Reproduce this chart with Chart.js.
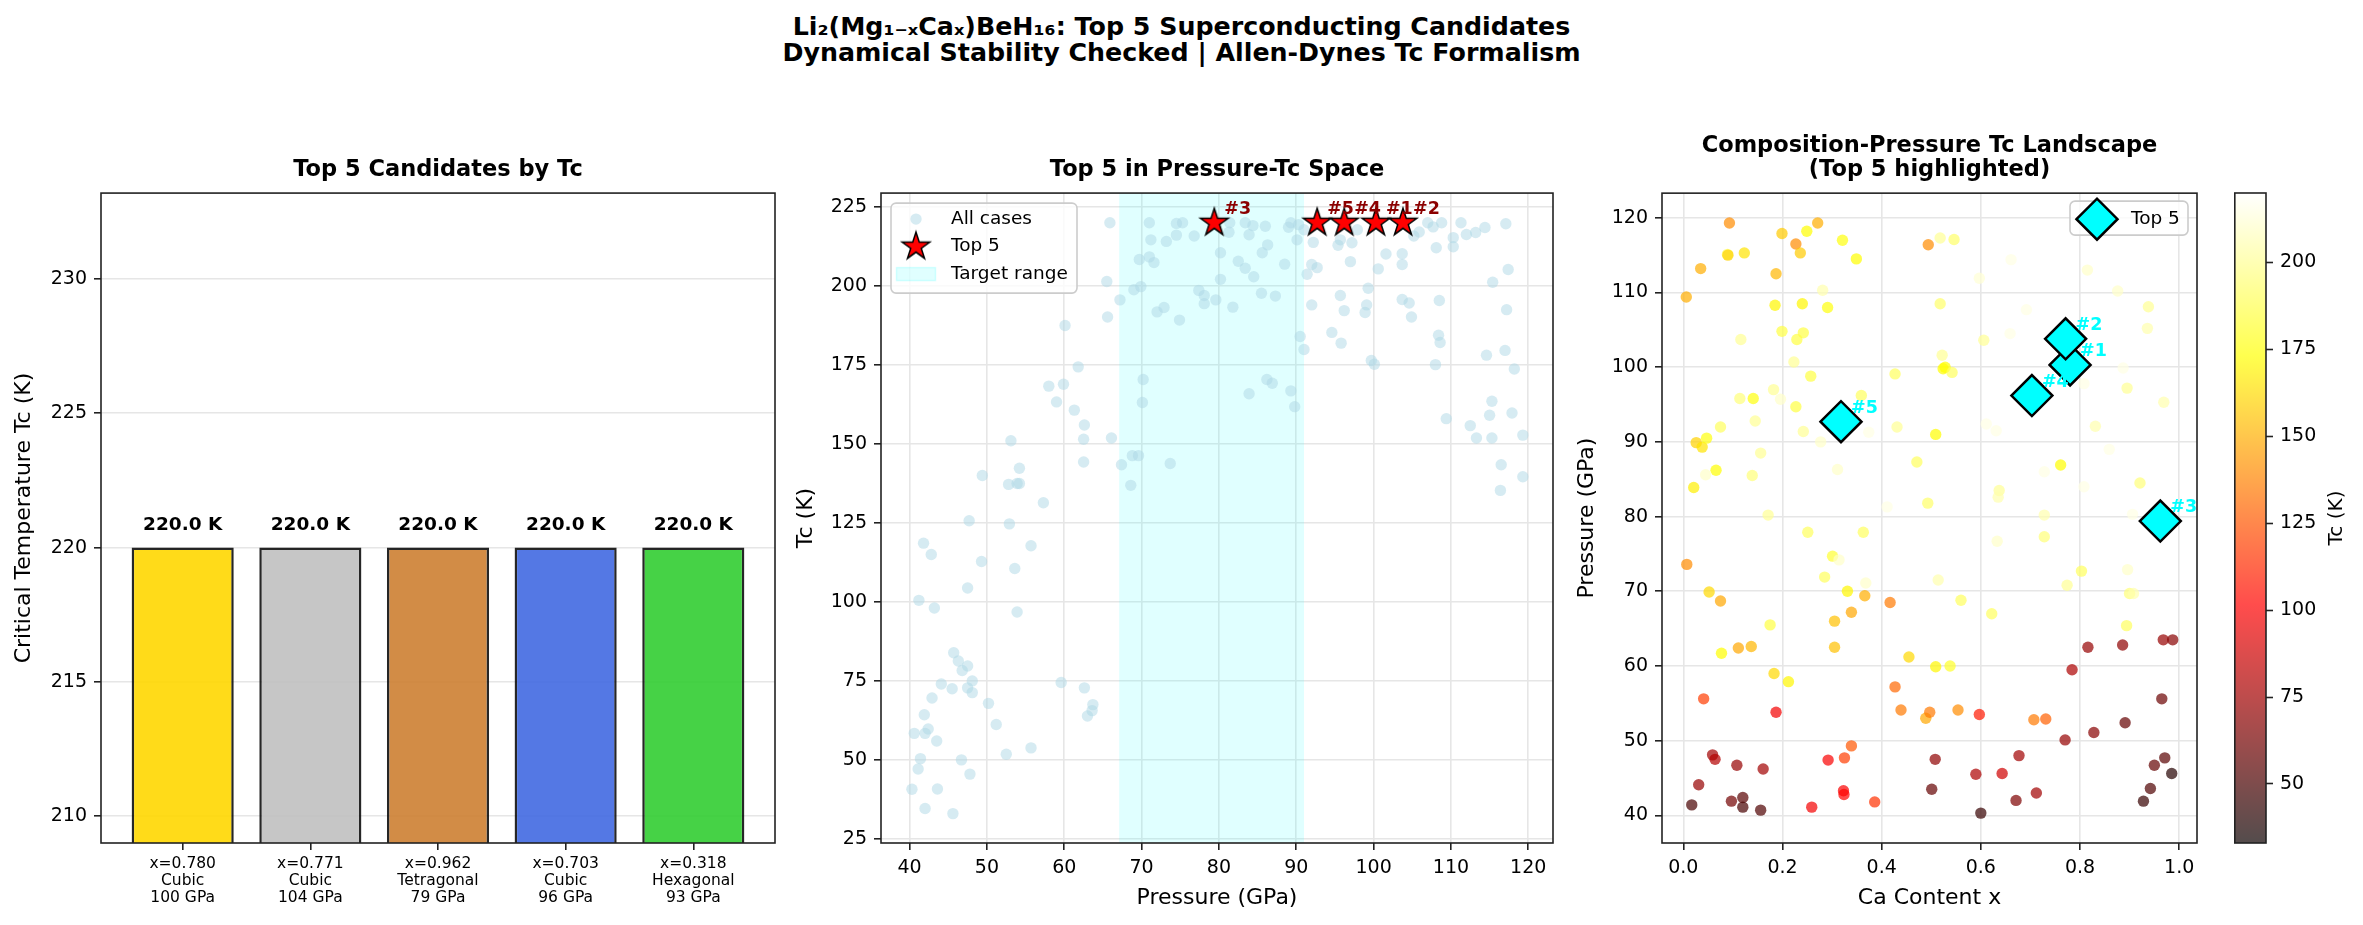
<!DOCTYPE html>
<html>
<head>
<meta charset="utf-8">
<script src="https://cdn.jsdelivr.net/npm/chart.js@4.4.1/dist/chart.umd.min.js"></script>
<style>
  html, body { margin: 0; padding: 0; background: #fff; }
  body { width: 2363px; height: 925px; position: relative; overflow: hidden; font-family: 'DejaVu Sans', sans-serif; }
  canvas { position: absolute; }
  #suptitle { position: absolute; left: 0; top: 14px; width: 2363px; text-align: center;
              font-weight: bold; font-size: 25.3px; line-height: 26px; color: #000; }
</style>
</head>
<body>
<div id="suptitle">Li₂(Mg₁₋ₓCaₓ)BeH₁₆: Top 5 Superconducting Candidates<br>Dynamical Stability Checked | Allen-Dynes Tc Formalism</div>
<canvas id="bars" width="790" height="825" style="left:0px;top:100px"></canvas>
<canvas id="ptc" width="802" height="825" style="left:781px;top:100px"></canvas>
<canvas id="land" width="660" height="825" style="left:1560px;top:100px"></canvas>
<canvas id="cbar" width="129" height="825" style="left:2234px;top:100px"></canvas>
<script>
// top 5 candidates
const top5Rank = ['#1', '#2', '#3', '#4', '#5'];
const top5Ca = [0.780, 0.771, 0.962, 0.703, 0.318];
const top5Pressure = [100.3, 103.8, 79.4, 96.2, 92.7];
const top5Tc = [220.0, 220.0, 220.0, 220.0, 220.0];
const top5Structure = ['Cubic', 'Cubic', 'Tetragonal', 'Cubic', 'Hexagonal'];
const top5Colors = ['rgba(255,215,0,0.9)', 'rgba(192,192,192,0.9)', 'rgba(205,127,50,0.9)', 'rgba(65,105,225,0.9)', 'rgba(50,205,50,0.9)'];

// target pressure window (GPa)
const targetRange = [67.1, 91.0];

// all cases, pressure vs Tc (middle panel)
const allPressure = [
  65.9, 71.0, 74.5, 75.3, 71.2, 73.2, 74.5, 76.8, 69.7, 71.0, 71.6, 80.2, 65.5, 67.2, 69.0, 69.9,
  65.6, 72.0, 72.9, 74.9, 77.4, 78.1, 78.1, 79.6, 80.2, 60.1, 61.8, 58.0, 59.9, 59.0, 61.3, 62.6,
  62.5, 66.1, 62.5, 70.2, 70.1, 67.4, 68.8, 69.6, 68.6, 73.7, 53.1, 49.4, 54.2, 52.8, 53.9, 54.2,
  57.3, 47.7, 52.9, 55.7, 41.8, 42.8, 49.3, 53.6, 47.5, 41.2, 43.2, 53.9, 45.7, 46.3, 47.5, 46.8,
  48.1, 44.1, 45.5, 47.5, 48.1, 42.9, 50.2, 59.6, 62.6, 63.7, 63.6, 63.0, 41.9, 51.2, 42.4, 40.6,
  42.0, 43.5, 41.4, 41.1, 46.7, 47.8, 52.5, 55.7, 40.3, 43.6, 42.0, 45.6,
  81.4, 81.3, 83.4, 84.4, 83.9, 86.0, 86.3, 85.6, 82.5, 83.4, 84.5, 88.5, 85.5, 87.3, 81.8, 89.0,
  89.3, 90.1, 90.5, 91.0, 86.2, 86.9, 83.9, 89.3, 89.8, 91.0, 92.2, 92.0, 92.7, 91.4, 92.0, 95.4,
  95.7, 97.2, 97.0, 97.9, 95.7, 96.2, 94.6, 95.8, 99.3, 99.1, 98.9, 100.6, 101.6, 103.7, 103.7, 99.7,
  100.1, 103.7, 104.6, 104.9, 105.2, 105.9, 107.0, 107.7, 108.8, 108.1, 110.3, 110.3, 111.3, 112.0, 113.2, 114.4,
  117.1, 108.5, 108.4, 108.6, 108.0, 115.4, 117.4, 117.2, 114.6, 117.0, 118.2, 115.3, 115.0, 117.9, 109.4, 112.5,
  113.3, 115.3, 119.3, 116.5, 119.3, 116.4, 90.3
];
const allTc = [
  220.0, 220.0, 219.8, 220.0, 214.6, 214.1, 216.1, 215.8, 208.4, 209.2, 207.4, 210.5, 201.4, 195.6, 198.8, 199.8,
  190.2, 191.8, 193.2, 189.2, 198.6, 197.0, 194.4, 195.6, 202.1, 187.5, 174.4, 168.3, 168.9, 163.3, 160.7, 156.0,
  151.5, 151.9, 144.3, 170.4, 163.1, 143.4, 146.3, 146.3, 136.9, 143.8, 151.0, 140.0, 142.3, 137.2, 137.5, 137.5,
  131.4, 125.7, 124.7, 117.8, 118.6, 115.0, 112.8, 110.6, 104.4, 100.5, 98.1, 96.8, 83.9, 81.3, 79.7, 78.3,
  75.0, 74.0, 72.5, 72.8, 71.3, 69.6, 67.9, 74.5, 72.8, 67.5, 65.6, 63.9, 64.3, 61.2, 59.8, 58.4,
  58.4, 56.0, 50.4, 47.1, 50.0, 45.5, 51.8, 53.8, 40.7, 40.8, 34.6, 33.0,
  220.0, 217.0, 220.0, 219.1, 216.2, 218.9, 213.0, 210.5, 207.8, 205.6, 202.9, 206.9, 197.7, 196.8, 193.3, 218.6,
  220.0, 214.6, 184.0, 179.9, 170.4, 169.2, 165.9, 166.8, 161.8, 217.8, 213.8, 206.8, 205.8, 203.7, 194.0, 212.9,
  214.6, 213.7, 207.7, 217.8, 197.0, 192.2, 185.3, 181.9, 199.3, 194.0, 191.6, 205.4, 210.1, 210.2, 206.8, 176.4,
  175.2, 195.7, 194.6, 190.2, 215.8, 217.1, 220.0, 218.7, 220.0, 212.1, 215.3, 212.4, 220.0, 216.3, 216.9, 218.5,
  219.7, 195.4, 184.4, 182.1, 175.1, 201.2, 205.2, 192.5, 178.1, 179.6, 173.7, 163.5, 159.1, 159.8, 158.0, 155.8,
  151.9, 151.9, 152.8, 143.4, 139.6, 135.3, 219.4
];

// composition-pressure landscape (right panel)
const landCa = [
  0.093, 0.199, 0.249, 0.271, 0.227, 0.236, 0.321, 0.349, 0.089, 0.090, 0.123, 0.035, 0.187, 0.006, 0.185, 0.240,
  0.291, 0.281, 0.199, 0.242, 0.229, 0.116, 0.223, 0.257, 0.427, 0.182, 0.196, 0.114, 0.141, 0.227, 0.359, 0.075,
  0.145, 0.242, 0.277, 0.374, 0.431, 0.026, 0.038, 0.047, 0.066, 0.045, 0.021, 0.156, 0.139, 0.311, 0.471, 0.411,
  0.493, 0.171, 0.251, 0.363, 0.301, 0.314, 0.285, 0.368, 0.007, 0.052, 0.075, 0.331, 0.366, 0.417, 0.175, 0.305,
  0.339, 0.077, 0.111, 0.137, 0.305, 0.455, 0.509, 0.183, 0.212, 0.041, 0.187, 0.427, 0.439, 0.489, 0.497, 0.059,
  0.064, 0.108, 0.161, 0.292, 0.325, 0.339, 0.031, 0.017, 0.097, 0.120, 0.120, 0.156, 0.259, 0.323, 0.324, 0.386,
  0.508, 0.501, 0.494,
  0.518, 0.546, 0.518, 0.522, 0.524, 0.528, 0.542, 0.509, 0.606, 0.597, 0.661, 0.692, 0.659, 0.815, 0.876, 0.938,
  0.936, 0.895, 0.969, 0.808, 0.887, 0.831, 0.859, 0.611, 0.631, 0.761, 0.728, 0.808, 0.921, 0.637, 0.635, 0.728,
  0.728, 0.633, 0.906, 0.803, 0.774, 0.896, 0.900, 0.908, 0.514, 0.560, 0.622, 0.894, 0.538, 0.816, 0.886, 0.968,
  0.987, 0.784, 0.965, 0.891, 0.828, 0.770, 0.554, 0.597, 0.707, 0.731, 0.590, 0.643, 0.677, 0.671, 0.712, 0.600,
  0.950, 0.971, 0.985, 0.942, 0.928
];
const landPressure = [
  119.3, 117.9, 118.2, 119.3, 116.5, 115.3, 117.0, 114.5, 115.1, 115.0, 115.3, 113.2, 112.5, 109.4, 108.3, 108.5,
  108.0, 110.3, 104.8, 104.6, 103.7, 103.7, 100.7, 98.8, 99.1, 97.0, 95.7, 95.8, 95.8, 94.7, 96.2, 92.0,
  92.8, 91.4, 90.0, 91.3, 92.0, 89.9, 89.3, 90.5, 86.2, 85.6, 83.9, 88.5, 85.5, 86.3, 87.3, 81.3,
  81.8, 80.2, 77.9, 77.9, 74.7, 74.2, 71.9, 71.1, 73.6, 69.9, 68.7, 70.0, 69.4, 68.5, 65.5, 66.0,
  67.2, 61.7, 62.4, 62.6, 62.5, 61.2, 59.9, 59.0, 57.9, 55.6, 53.8, 57.2, 54.1, 53.0, 53.8, 48.1,
  47.5, 46.7, 46.2, 47.4, 47.7, 49.3, 44.1, 41.4, 41.9, 42.4, 41.1, 40.7, 41.1, 43.3, 42.8, 41.8,
  47.5, 43.5, 116.4,
  117.3, 117.1, 108.5, 101.6, 99.8, 100.0, 99.3, 91.0, 103.6, 111.9, 114.4, 107.7, 104.5, 113.0, 110.2, 108.1,
  105.2, 97.2, 95.3, 97.8, 99.9, 92.1, 89.0, 92.4, 91.5, 86.9, 86.0, 84.0, 84.5, 83.5, 82.6, 80.2,
  77.3, 76.7, 80.3, 72.7, 70.8, 72.9, 69.7, 69.7, 71.5, 68.8, 67.0, 65.4, 60.0, 62.5, 62.8, 63.5,
  63.5, 59.5, 55.6, 52.4, 51.1, 50.1, 54.1, 53.5, 52.8, 52.9, 45.5, 45.6, 48.0, 42.0, 43.0, 40.3,
  46.7, 47.7, 45.6, 43.6, 41.9
];
const landTc = [
  140, 158, 172, 150, 140, 158, 175, 172, 190, 160, 165, 150, 152, 150, 170, 170,
  175, 205, 185, 185, 185, 200, 200, 185, 190, 200, 210, 195, 175, 185, 190, 190,
  200, 200, 210, 215, 200, 160, 165, 175, 172, 210, 168, 200, 195, 210, 190, 215,
  192, 200, 190, 190, 182, 210, 190, 210, 140, 162, 148, 170, 150, 135, 185, 155,
  148, 172, 148, 152, 155, 162, 170, 162, 170, 118, 98, 130, 135, 148, 135, 75,
  80, 72, 75, 100, 118, 125, 72, 50, 62, 55, 50, 52, 98, 100, 102, 115,
  70, 58, 140,
  200, 192, 192, 200, 172, 172, 190, 172, 200, 212, 215, 215, 215, 210, 210, 200,
  205, 200, 205, 215, 215, 205, 215, 215, 215, 172, 215, 215, 195, 200, 205, 205,
  195, 210, 215, 190, 200, 210, 195, 205, 205, 190, 190, 190, 180, 72, 70, 72,
  68, 78, 60, 58, 68, 72, 140, 108, 135, 128, 78, 88, 75, 65, 75, 45,
  58, 55, 40, 52, 45
];

const FONT = "'DejaVu Sans', sans-serif";
Chart.defaults.font.family = FONT;
Chart.defaults.color = '#000';

const tcMin = Math.min(...allTc);
const tcMax = Math.max(...allTc);

// matplotlib 'hot' colormap
function hotColor(t, alpha) {
  t = Math.min(1, Math.max(0, t));
  const r = t < 0.365079 ? 0.0416 + (1 - 0.0416) * t / 0.365079 : 1;
  const g = t < 0.365079 ? 0 : (t < 0.746032 ? (t - 0.365079) / (0.746032 - 0.365079) : 1);
  const b = t < 0.746032 ? 0 : (t - 0.746032) / (1 - 0.746032);
  return 'rgba(' + Math.round(r * 255) + ',' + Math.round(g * 255) + ',' + Math.round(b * 255) + ',' + alpha + ')';
}
function tcNorm(t) { return (t - tcMin) / (tcMax - tcMin); }

function makeStar(R, lw) {
  const size = Math.ceil(2 * R + 2 * lw + 4);
  const c = document.createElement('canvas');
  c.width = size; c.height = size;
  const g = c.getContext('2d');
  g.beginPath();
  for (let k = 0; k < 10; k++) {
    const r = k % 2 ? R * 0.381966 : R;
    const ang = -Math.PI / 2 + k * Math.PI / 5;
    g.lineTo(size / 2 + r * Math.cos(ang), size / 2 + r * Math.sin(ang));
  }
  g.closePath();
  g.fillStyle = '#ff0000'; g.fill();
  g.lineWidth = lw; g.strokeStyle = '#000'; g.stroke();
  return c;
}
const starImg = makeStar(14.5, 1.5);

function gridOpts(onArea) {
  return { display: true, drawOnChartArea: onArea, color: '#e6e6e6', lineWidth: 1.6,
           drawTicks: true, tickLength: 7, tickColor: '#222', tickWidth: 1.6, offset: false };
}
function titleOpts(text, padTop) {
  return { display: true, text: text, fullSize: false, color: '#000',
           font: { size: 22.5, weight: 'bold', lineHeight: 1.07 }, padding: { top: padTop, bottom: 11 } };
}

const framePlugin = {
  id: 'frame',
  afterDatasetsDraw(chart) {
    const { ctx, chartArea: a } = chart;
    ctx.save();
    ctx.strokeStyle = '#222'; ctx.lineWidth = 1.6;
    ctx.strokeRect(a.left, a.top, a.right - a.left, a.bottom - a.top);
    ctx.restore();
  }
};

function makeTagPlugin(xs, ys, tags, color) {
  return {
    id: 'tags',
    afterDatasetsDraw(chart) {
      const { ctx, scales: { x, y } } = chart;
      ctx.save();
      ctx.font = 'bold 17.5px ' + FONT;
      ctx.fillStyle = color; ctx.textAlign = 'left'; ctx.textBaseline = 'alphabetic';
      tags.forEach((t, i) => ctx.fillText(t, x.getPixelForValue(xs[i]) + 10, y.getPixelForValue(ys[i]) - 9));
      ctx.restore();
    }
  };
}

function roundBox(ctx, x, y, w, h, r) {
  ctx.beginPath();
  ctx.moveTo(x + r, y);
  ctx.arcTo(x + w, y, x + w, y + h, r);
  ctx.arcTo(x + w, y + h, x, y + h, r);
  ctx.arcTo(x, y + h, x, y, r);
  ctx.arcTo(x, y, x + w, y, r);
  ctx.closePath();
}

function drawMarker(ctx, kind, x, y) {
  ctx.save();
  if (kind === 'circle') {
    ctx.beginPath(); ctx.arc(x, y, 5.7, 0, Math.PI * 2);
    ctx.fillStyle = 'rgba(173,216,230,0.5)'; ctx.fill();
  } else if (kind === 'star') {
    ctx.drawImage(starImg, x - starImg.width / 2, y - starImg.height / 2);
  } else if (kind === 'patch') {
    ctx.fillStyle = 'rgba(0,255,255,0.12)'; ctx.strokeStyle = 'rgba(0,255,255,0.15)'; ctx.lineWidth = 1.5;
    ctx.fillRect(x - 19.5, y - 6.5, 39, 13); ctx.strokeRect(x - 19.5, y - 6.5, 39, 13);
  } else if (kind === 'diamond') {
    ctx.beginPath();
    ctx.moveTo(x - 20.5, y); ctx.lineTo(x, y - 20.5); ctx.lineTo(x + 20.5, y); ctx.lineTo(x, y + 20.5); ctx.closePath();
    ctx.fillStyle = '#00ffff'; ctx.fill(); ctx.lineWidth = 2.5; ctx.strokeStyle = '#000'; ctx.stroke();
  }
  ctx.restore();
}

function makeLegendPlugin(cfg) {
  return {
    id: 'mplLegend',
    afterDraw(chart) {
      const { ctx, chartArea: a } = chart;
      const bx = cfg.right ? a.right - cfg.dx - cfg.w : a.left + cfg.dx;
      const by = a.top + cfg.dy;
      ctx.save();
      roundBox(ctx, bx, by, cfg.w, cfg.h, 5);
      ctx.fillStyle = 'rgba(255,255,255,0.8)'; ctx.fill();
      ctx.strokeStyle = '#cccccc'; ctx.lineWidth = 1.6; ctx.stroke();
      cfg.items.forEach((it, i) => {
        const cy = by + cfg.first + i * cfg.step;
        drawMarker(ctx, it.kind, bx + cfg.mx, cy);
        ctx.fillStyle = '#000'; ctx.font = '18.5px ' + FONT;
        ctx.textAlign = 'left'; ctx.textBaseline = 'middle';
        ctx.fillText(it.text, bx + cfg.tx, cy);
      });
      ctx.restore();
    }
  };
}

// ---------- panel 1: bars ----------
const barLabels = top5Ca.map((x, i) => ['x=' + x.toFixed(3), top5Structure[i], Math.round(top5Pressure[i]) + ' GPa']);

const barValuePlugin = {
  id: 'barValues',
  afterDatasetsDraw(chart) {
    const ctx = chart.ctx, y = chart.scales.y;
    chart.getDatasetMeta(0).data.forEach((bar, i) => {
      ctx.save();
      ctx.font = 'bold 18.5px ' + FONT;
      ctx.fillStyle = '#000'; ctx.textAlign = 'center'; ctx.textBaseline = 'bottom';
      ctx.fillText(top5Tc[i].toFixed(1) + ' K', bar.x, y.getPixelForValue(top5Tc[i] + 0.5));
      ctx.restore();
    });
  }
};

new Chart(document.getElementById('bars'), {
  type: 'bar',
  data: {
    datasets: [{
      data: top5Tc.map((t, i) => ({ x: i, y: t })),
      backgroundColor: top5Colors,
      borderColor: 'rgba(0,0,0,0.85)',
      borderWidth: 2.5,
      borderSkipped: false,
      categoryPercentage: 0.8,
      barPercentage: 1.0
    }]
  },
  options: {
    responsive: false, devicePixelRatio: 1, animation: false,
    layout: { padding: { right: 15 } },
    plugins: { legend: { display: false }, tooltip: { enabled: false },
               title: titleOpts('Top 5 Candidates by Tc', 58) },
    scales: {
      x: {
        type: 'linear', min: -0.64, max: 4.64, offset: false,
        grid: gridOpts(false), border: { display: false },
        afterBuildTicks: s => { s.ticks = top5Tc.map((_, i) => ({ value: i })); },
        ticks: { autoSkip: false, maxRotation: 0, padding: 6, font: { size: 15.5, lineHeight: 1.08 },
                 callback: v => barLabels[v] },
        afterFit: s => { s.height = 82; }
      },
      y: {
        min: 209, max: 233.2,
        grid: gridOpts(true), border: { display: false },
        ticks: { stepSize: 5, includeBounds: false, padding: 7, font: { size: 19 } },
        title: { display: true, text: 'Critical Temperature Tc (K)', font: { size: 22, lineHeight: 1.2 }, padding: { top: 11, bottom: 0 } },
        afterFit: s => { s.width = 101; }
      }
    }
  },
  plugins: [barValuePlugin, framePlugin]
});

// ---------- panel 2: pressure vs Tc ----------
const spanPlugin = {
  id: 'targetSpan',
  beforeDatasetsDraw(chart) {
    const { ctx, chartArea: a, scales: { x } } = chart;
    const x0 = x.getPixelForValue(targetRange[0]), x1 = x.getPixelForValue(targetRange[1]);
    ctx.save();
    ctx.fillStyle = 'rgba(0,255,255,0.12)';
    ctx.fillRect(x0, a.top, x1 - x0, a.bottom - a.top);
    ctx.restore();
  }
};

new Chart(document.getElementById('ptc'), {
  type: 'scatter',
  data: {
    datasets: [
      { label: 'Top 5', data: top5Pressure.map((p, i) => ({ x: p, y: top5Tc[i] })),
        pointStyle: starImg, pointRadius: 14.5, backgroundColor: '#ff0000', order: 0 },
      { label: 'All cases', data: allPressure.map((p, i) => ({ x: p, y: allTc[i] })),
        pointRadius: 5.7, borderWidth: 0, backgroundColor: 'rgba(173,216,230,0.5)', order: 1 }
    ]
  },
  options: {
    responsive: false, devicePixelRatio: 1, animation: false,
    layout: { padding: { right: 30 } },
    plugins: { legend: { display: false }, tooltip: { enabled: false },
               title: titleOpts('Top 5 in Pressure-Tc Space', 58) },
    scales: {
      x: {
        type: 'linear', min: 36.3, max: 123.2,
        grid: gridOpts(true), border: { display: false },
        ticks: { stepSize: 10, includeBounds: false, padding: 7, maxRotation: 0, font: { size: 19 } },
        title: { display: true, text: 'Pressure (GPa)', font: { size: 22, lineHeight: 1.2 }, padding: { top: 0, bottom: 14 } },
        afterFit: s => { s.height = 82; }
      },
      y: {
        min: 23.7, max: 229.4,
        grid: gridOpts(true), border: { display: false },
        ticks: { stepSize: 25, includeBounds: false, padding: 7, font: { size: 19 } },
        title: { display: true, text: 'Tc (K)', font: { size: 22, lineHeight: 1.2 }, padding: { top: 12, bottom: 0 } },
        afterFit: s => { s.width = 100; }
      }
    }
  },
  plugins: [spanPlugin, framePlugin,
    makeTagPlugin(top5Pressure, top5Tc, top5Rank, '#8b0000'),
    makeLegendPlugin({ right: false, dx: 10, dy: 10, w: 186, h: 90, first: 16, step: 27.5, mx: 25, tx: 60,
      items: [{ kind: 'circle', text: 'All cases' }, { kind: 'star', text: 'Top 5' }, { kind: 'patch', text: 'Target range' }] })]
});

// ---------- panel 3: composition-pressure landscape ----------
new Chart(document.getElementById('land'), {
  type: 'scatter',
  data: {
    datasets: [
      { label: 'Top 5', data: top5Ca.map((x, i) => ({ x: x, y: top5Pressure[i] })),
        pointStyle: 'rectRot', pointRadius: 20.5, backgroundColor: '#00ffff', borderColor: '#000', borderWidth: 2.5, order: 0 },
      { label: 'Tc (K)', data: landCa.map((x, i) => ({ x: x, y: landPressure[i] })),
        pointRadius: 5.7, borderWidth: 0, backgroundColor: landTc.map(t => hotColor(tcNorm(t), 0.7)), order: 1 }
    ]
  },
  options: {
    responsive: false, devicePixelRatio: 1, animation: false,
    layout: { padding: { right: 20 } },
    plugins: { legend: { display: false }, tooltip: { enabled: false },
               title: titleOpts(['Composition-Pressure Tc Landscape', '(Top 5 highlighted)'], 34) },
    scales: {
      x: {
        type: 'linear', min: -0.043, max: 1.036,
        grid: gridOpts(true), border: { display: false },
        ticks: { stepSize: 0.2, includeBounds: false, padding: 7, maxRotation: 0, font: { size: 19 },
                 callback: v => v.toFixed(1) },
        title: { display: true, text: 'Ca Content x', font: { size: 22, lineHeight: 1.2 }, padding: { top: 0, bottom: 14 } },
        afterFit: s => { s.height = 82; }
      },
      y: {
        min: 36.3, max: 123.3,
        grid: gridOpts(true), border: { display: false },
        ticks: { stepSize: 10, includeBounds: false, padding: 7, font: { size: 19 } },
        title: { display: true, text: 'Pressure (GPa)', font: { size: 22, lineHeight: 1.2 }, padding: { top: 14, bottom: 0 } },
        afterFit: s => { s.width = 102; }
      }
    }
  },
  plugins: [framePlugin,
    makeTagPlugin(top5Ca, top5Pressure, top5Rank, '#00ffff'),
    makeLegendPlugin({ right: true, dx: 9, dy: 8, w: 118, h: 34, first: 18, step: 0, mx: 27, tx: 61,
      items: [{ kind: 'diamond', text: 'Top 5' }] })]
});

// ---------- colorbar ----------
const cbarPlugin = {
  id: 'cbar',
  afterDraw(chart) {
    const { ctx, chartArea: a } = chart;
    ctx.save();
    const g = ctx.createLinearGradient(0, a.bottom, 0, a.top);
    for (let k = 0; k <= 60; k++) g.addColorStop(k / 60, hotColor(k / 60, 0.7));
    ctx.fillStyle = g;
    ctx.fillRect(a.left, a.top, a.right - a.left, a.bottom - a.top);
    ctx.strokeStyle = '#222'; ctx.lineWidth = 1.6;
    ctx.strokeRect(a.left + 0.8, a.top, a.right - a.left - 0.8, a.bottom - a.top);
    ctx.translate(103, (a.top + a.bottom) / 2);
    ctx.rotate(-Math.PI / 2);
    ctx.font = '20px ' + FONT; ctx.fillStyle = '#000';
    ctx.textAlign = 'center'; ctx.textBaseline = 'middle';
    ctx.fillText('Tc (K)', 0, 0);
    ctx.restore();
  }
};

new Chart(document.getElementById('cbar'), {
  type: 'scatter',
  data: { datasets: [] },
  options: {
    responsive: false, devicePixelRatio: 1, animation: false,
    layout: { padding: { top: 93, bottom: 82 } },
    plugins: { legend: { display: false }, tooltip: { enabled: false } },
    scales: {
      x: { display: false, min: 0, max: 1 },
      y: {
        position: 'right', min: tcMin, max: tcMax,
        grid: { display: true, drawOnChartArea: false, drawTicks: true, tickLength: 7, tickColor: '#222', tickWidth: 1.6 },
        border: { display: false },
        ticks: { stepSize: 25, includeBounds: false, padding: 7, font: { size: 19 } },
        afterFit: s => { s.width = 97; }
      }
    }
  },
  plugins: [cbarPlugin]
});
</script>
</body>
</html>
